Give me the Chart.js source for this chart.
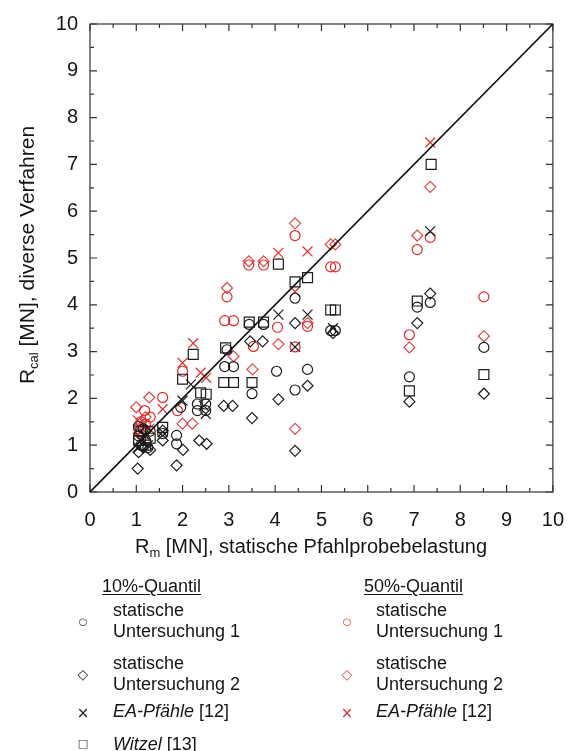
<!DOCTYPE html>
<html>
<head>
<meta charset="utf-8">
<script src="https://cdn.jsdelivr.net/npm/chart.js@4.4.1/dist/chart.umd.min.js"></script>
<style>
  body { margin: 0; background: #fff; }
  #wrap { position: relative; width: 580px; height: 751px; overflow: hidden;
          font-family: "Liberation Sans", Arial, sans-serif; color: #151515; }
  #chart { position: absolute; left: 0; top: 0; }
  .lg { position: absolute; font-size: 18px; line-height: 21px; white-space: nowrap; }
  .hd { text-decoration: underline; text-underline-offset: 2px; }
  .mk { position: absolute; font-family: "DejaVu Sans"; line-height: 1; transform: translate(-50%, -50%); }
</style>
</head>
<body>
<div id="wrap">
  <canvas id="chart" width="580" height="751"></canvas>

  <div class="lg hd" style="left:102px; top:576px;">10%-Quantil</div>
  <div class="mk" style="left:83px; top:622px; font-size:10px; color:#222;">○</div>
  <div class="lg" style="left:113px; top:600px;">statische<br>Untersuchung 1</div>
  <div class="mk" style="left:83px; top:674px; font-size:14px; color:#222;">◇</div>
  <div class="lg" style="left:113px; top:653px;">statische<br>Untersuchung 2</div>
  <div class="mk" style="left:83px; top:713px; font-size:15px; color:#222;">×</div>
  <div class="lg" style="left:113px; top:701px;"><i>EA-Pfähle</i> [12]</div>
  <div class="mk" style="left:83px; top:743px; font-size:11px; color:#222;">□</div>
  <div class="lg" style="left:113px; top:734px;"><i>Witzel</i> [13]</div>

  <div class="lg hd" style="left:364px; top:576px;">50%-Quantil</div>
  <div class="mk" style="left:347px; top:622px; font-size:10px; color:#e32b2b;">○</div>
  <div class="lg" style="left:376px; top:600px;">statische<br>Untersuchung 1</div>
  <div class="mk" style="left:347px; top:674px; font-size:14px; color:#e04848;">◇</div>
  <div class="lg" style="left:376px; top:653px;">statische<br>Untersuchung 2</div>
  <div class="mk" style="left:347px; top:713px; font-size:15px; color:#e32b2b;">×</div>
  <div class="lg" style="left:376px; top:701px;"><i>EA-Pfähle</i> [12]</div>
</div>

<script>
// 10%-Quantil
const q10Stat1X = [1.05, 1.1, 1.2, 1.25, 1.3, 1.05, 1.15, 1.57, 1.87, 1.87, 1.96, 2.32, 2.5, 2.32, 2.5,
  2.91, 3.1, 2.96, 3.44, 3.75, 3.5, 4.03, 4.43, 4.7, 4.43, 5.2, 5.3, 6.9, 7.07, 7.35, 8.51];
const q10Stat1Y = [1.2, 1.0, 1.1, 0.95, 1.3, 1.4, 1.35, 1.25, 1.21, 1.03, 1.81, 1.88, 1.88, 1.74, 1.74,
  2.68, 2.68, 3.04, 3.58, 3.58, 2.1, 2.58, 2.18, 2.62, 4.14, 3.45, 3.45, 2.46, 3.95, 4.05, 3.09];

const q10Stat2X = [1.03, 1.05, 1.15, 1.3, 1.2, 1.57, 1.57, 1.87, 2.01, 2.36, 2.52, 2.89, 3.08, 3.5,
  3.46, 3.73, 4.07, 4.7, 4.43, 4.43, 5.25, 6.9, 7.07, 7.35, 8.51];
const q10Stat2Y = [0.5, 0.85, 0.95, 0.9, 1.3, 1.1, 1.31, 0.57, 0.9, 1.1, 1.03, 1.84, 1.84, 1.58,
  3.22, 3.22, 1.98, 2.27, 0.88, 3.61, 3.4, 1.93, 3.61, 4.24, 2.1];

const q10EaX = [1.05, 1.1, 1.2, 1.25, 1.57, 2.0, 2.18, 2.46, 2.5, 4.07, 4.7, 4.43, 5.25, 7.35];
const q10EaY = [0.95, 1.1, 1.2, 1.0, 1.28, 1.95, 2.3, 1.84, 1.67, 3.79, 3.79, 3.1, 3.5, 5.57];

const q10WitzelX = [1.05, 1.1, 1.2, 1.3, 1.57, 2.0, 2.23, 2.39, 2.51, 2.89, 3.1, 2.93, 3.44, 3.75, 3.5,
  4.07, 4.43, 4.7, 5.2, 5.3, 6.9, 7.07, 7.37, 8.51];
const q10WitzelY = [1.1, 1.3, 1.0, 1.15, 1.38, 2.41, 2.94, 2.12, 2.09, 2.34, 2.34, 3.08, 3.63, 3.63, 2.34,
  4.87, 4.49, 4.58, 3.89, 3.89, 2.16, 4.08, 7.0, 2.51];

// 50%-Quantil
const q50Stat1X = [1.05, 1.1, 1.2, 1.3, 1.15, 1.18, 1.57, 1.89, 2.0, 2.91, 3.1, 2.96, 3.43, 3.75, 3.53,
  4.05, 4.43, 4.7, 4.43, 5.2, 5.3, 6.9, 7.07, 7.35, 8.51];
const q50Stat1Y = [1.35, 1.5, 1.45, 1.6, 1.2, 1.74, 2.02, 1.74, 2.58, 3.66, 3.66, 4.17, 4.85, 4.85, 3.11,
  3.52, 3.1, 3.54, 5.48, 4.81, 4.81, 3.36, 5.18, 5.44, 4.17];

const q50Stat2X = [1.0, 1.05, 1.2, 1.28, 2.0, 2.21, 3.1, 2.96, 3.43, 3.75, 3.51, 4.07, 4.43, 4.7, 4.43,
  5.2, 5.3, 6.9, 7.07, 7.35, 8.51];
const q50Stat2Y = [1.81, 1.25, 1.6, 2.02, 1.46, 1.46, 2.9, 4.36, 4.93, 4.93, 2.62, 3.16, 1.35, 3.61, 5.74,
  5.29, 5.29, 3.09, 5.48, 6.52, 3.33];

const q50EaX = [1.03, 1.18, 1.1, 1.28, 1.57, 2.0, 2.23, 2.39, 2.51, 4.07, 4.7, 4.43, 7.35];
const q50EaY = [1.53, 1.46, 1.3, 1.35, 1.77, 2.76, 3.18, 2.55, 2.44, 5.11, 5.14, 4.28, 7.47];

const BLACK = "#1c1c1c";
const RED = "#e32b2b";
const RED_LIGHT = "#e04848";

function pts(xs, ys) {
  return xs.map((x, i) => ({ x: x, y: ys[i] }));
}

function series(label, xs, ys, style, color, radius) {
  return {
    label: label,
    data: pts(xs, ys),
    pointStyle: style,
    pointRadius: radius,
    pointBorderColor: color,
    pointBackgroundColor: "rgba(0,0,0,0)",
    pointBorderWidth: 1.2,
    showLine: false,
  };
}

// Rahmen mit Teilstrichen innen auf allen vier Seiten + Achsentitel
const frameTicks = {
  id: "frameTicks",
  beforeDatasetsDraw(chart) {
    const { ctx, chartArea: a, scales } = chart;
    ctx.save();
    ctx.strokeStyle = "#333";
    ctx.lineWidth = 1.2;
    ctx.strokeRect(a.left, a.top, a.right - a.left, a.bottom - a.top);
    ctx.beginPath();
    for (let i = 0; i <= 20; i++) {
      const v = i / 2;
      const len = i % 2 === 0 ? 7 : 4;
      const px = scales.x.getPixelForValue(v);
      const py = scales.y.getPixelForValue(v);
      ctx.moveTo(px, a.bottom); ctx.lineTo(px, a.bottom - len);
      ctx.moveTo(px, a.top); ctx.lineTo(px, a.top + len);
      ctx.moveTo(a.left, py); ctx.lineTo(a.left + len, py);
      ctx.moveTo(a.right, py); ctx.lineTo(a.right - len, py);
    }
    ctx.stroke();
    ctx.restore();
  },
  afterDraw(chart) {
    const { ctx } = chart;
    ctx.save();
    ctx.fillStyle = "#151515";
    ctx.textBaseline = "alphabetic";

    // x-Titel
    const big = '20px "Liberation Sans", Arial, sans-serif';
    const small = '13px "Liberation Sans", Arial, sans-serif';
    const rest = " [MN], statische Pfahlprobebelastung";
    ctx.font = big;
    const wR = ctx.measureText("R").width;
    const wRest = ctx.measureText(rest).width;
    ctx.font = small;
    const wSub = ctx.measureText("m").width;
    let x0 = 311 - (wR + wSub + wRest) / 2;
    const bx = 553;
    ctx.font = big; ctx.fillText("R", x0, bx);
    ctx.font = small; ctx.fillText("m", x0 + wR, bx + 4);
    ctx.font = big; ctx.fillText(rest, x0 + wR + wSub, bx);

    // y-Titel
    const bigY = '21px "Liberation Sans", Arial, sans-serif';
    const smallY = '13px "Liberation Sans", Arial, sans-serif';
    const restY = " [MN], diverse Verfahren";
    ctx.translate(34, 255);
    ctx.rotate(-Math.PI / 2);
    ctx.font = bigY;
    const wRy = ctx.measureText("R").width;
    const wRestY = ctx.measureText(restY).width;
    ctx.font = smallY;
    const wSubY = ctx.measureText("cal").width;
    let y0 = -(wRy + wSubY + wRestY) / 2;
    ctx.font = bigY; ctx.fillText("R", y0, 0);
    ctx.font = smallY; ctx.fillText("cal", y0 + wRy, 4);
    ctx.font = bigY; ctx.fillText(restY, y0 + wRy + wSubY, 0);
    ctx.restore();
  },
};

const tickFont = { family: '"Liberation Sans", Arial, sans-serif', size: 20 };

const config = {
  type: "scatter",
  data: {
    datasets: [
      {
        type: "line",
        label: "1:1",
        data: [{ x: 0, y: 0 }, { x: 10, y: 10 }],
        borderColor: "#111",
        borderWidth: 1.6,
        pointRadius: 0,
        fill: false,
      },
      series("10% statistische Untersuchung 1", q10Stat1X, q10Stat1Y, "circle", BLACK, 5),
      series("10% statistische Untersuchung 2", q10Stat2X, q10Stat2Y, "rectRot", BLACK, 5.5),
      series("10% EA-Pfähle [12]", q10EaX, q10EaY, "crossRot", BLACK, 7),
      series("10% Witzel [13]", q10WitzelX, q10WitzelY, "rect", BLACK, 7),
      series("50% statistische Untersuchung 1", q50Stat1X, q50Stat1Y, "circle", RED, 5),
      series("50% statistische Untersuchung 2", q50Stat2X, q50Stat2Y, "rectRot", RED_LIGHT, 5.5),
      series("50% EA-Pfähle [12]", q50EaX, q50EaY, "crossRot", RED, 7),
    ],
  },
  options: {
    responsive: false,
    animation: false,
    layout: { padding: { top: 20, right: 23, left: 0, bottom: 751 - 555 } },
    plugins: { legend: { display: false }, tooltip: { enabled: false } },
    scales: {
      x: {
        type: "linear",
        min: 0,
        max: 10,
        ticks: { stepSize: 1, padding: 16, color: "#151515", font: tickFont, maxRotation: 0 },
        grid: { display: false, drawTicks: false },
        border: { display: false },
        afterFit: (s) => { s.height = 63; },
      },
      y: {
        type: "linear",
        min: 0,
        max: 10,
        ticks: { stepSize: 1, padding: 12, color: "#151515", font: tickFont },
        grid: { display: false, drawTicks: false },
        border: { display: false },
        afterFit: (s) => { s.width = 90; },
      },
    },
  },
  plugins: [frameTicks],
};

new Chart(document.getElementById("chart"), config);
</script>
</body>
</html>
